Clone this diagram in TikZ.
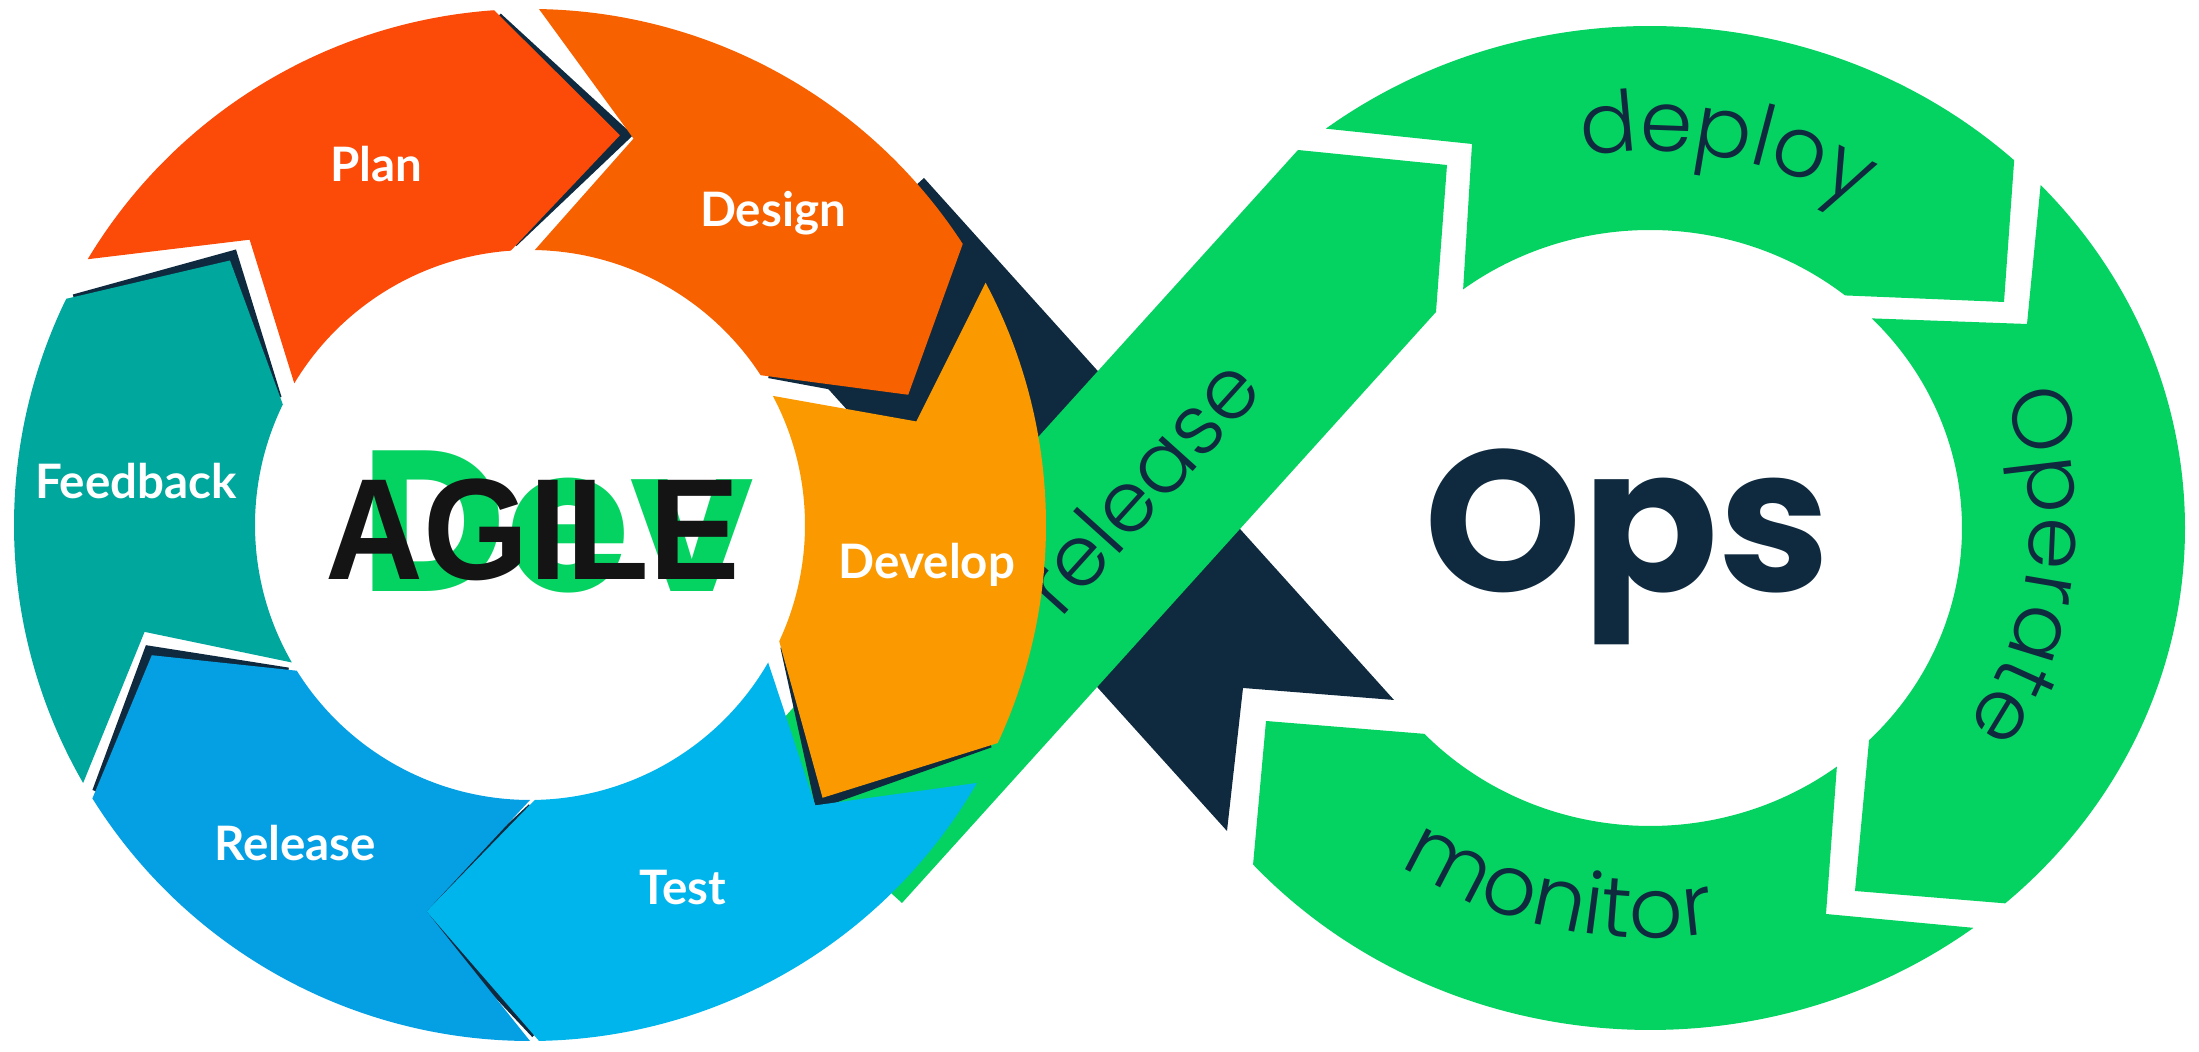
\documentclass[tikz,border=0pt]{standalone}
\usepackage{fontspec}
\usepackage{tikz}
\usetikzlibrary{positioning,decorations.text}
\newfontfamily\opsfont{Poppins}
\newfontfamily\thinfont{Poppins}[UprightFont=* Light]
\newfontfamily\agilefont{Lato}
\newfontfamily\headfont{Liberation Sans}
\definecolor{devgreen}{RGB}{5,211,97}
\definecolor{opsnavy}{RGB}{15,42,63}
\definecolor{planred}{RGB}{252,74,8}
\definecolor{designorange}{RGB}{247,97,0}
\definecolor{developamber}{RGB}{251,154,0}
\definecolor{testblue}{RGB}{0,180,236}
\definecolor{releaseblue}{RGB}{5,160,228}
\definecolor{feedbackteal}{RGB}{0,167,157}
\tikzset{
  steplabel/.style={text=white, inner sep=0pt, font=\agilefont\bfseries\fontsize{13.5pt}{13.5pt}\selectfont},
  bigword/.style={inner sep=0pt, font=\opsfont\bfseries\fontsize{57pt}{57pt}\selectfont},
  ringword/.style={inner sep=0pt, text=opsnavy, font=\thinfont\fontsize{24pt}{24pt}\selectfont},
  ringtext/.style={decorate, decoration={text along path, text align=center,
      text={|\thinfont\fontsize{24pt}{24pt}\selectfont\color{opsnavy}|#1}}}
}

\begin{document}
\begin{tikzpicture}[x=0.01cm, y=0.01cm]
  \useasboundingbox (0,0) rectangle (2199,1052);
  % the X of the loop
  \fill[opsnavy] (924,874) -- (1394,352) -- (1243,364) -- (1227,221) -- (766,732) -- cycle;
  \fill[devgreen] (1298,902) -- (1447,887) -- (1436,740) -- (902,149) -- (745,291) -- cycle;
  \node[ringword, rotate=48] (releaseword) at (1140,567) {release};
  % Ops ring
  \begin{scope}[shift={(1650,524)}]
    \fill[devgreen] (127.3:535 and 502) arc[start angle=127.3, end angle=47.1, x radius=535, y radius=502]
      -- (354,226) -- (51.3:312 and 298) arc[start angle=51.3, end angle=126.8, x radius=312, y radius=298]
      -- (-178,384) -- cycle;
    \fill[devgreen] (43.1:535 and 502) arc[start angle=43.1, end angle=-48.4, x radius=535, y radius=502]
      -- (205,-363) -- (-45.4:312 and 298) arc[start angle=-45.4, end angle=44.7, x radius=312, y radius=298]
      -- (377,204) -- cycle;
    \fill[devgreen] (-52.8:535 and 502) arc[start angle=-52.8, end angle=-137.9, x radius=535, y radius=502]
      -- (-384,-193) -- (-136.3:312 and 298) arc[start angle=-136.3, end angle=-53.2, x radius=312, y radius=298]
      -- (176,-386) -- cycle;
    \path[ringtext=deploy] (114:400 and 377) arc[start angle=114, end angle=44, x radius=400, y radius=377];
    \path[ringtext=Operate] (29:380 and 356) arc[start angle=29, end angle=-41, x radius=380, y radius=356];
    \path[ringtext=monitor] (-138.3:437 and 410) arc[start angle=-138.3, end angle=-68.3, x radius=437, y radius=410];
  \end{scope}
  \node[bigword, text=opsnavy, anchor=base west] (ops) at (1424,460) {Ops};
  % agile wheel
  \begin{scope}[shift={(530,527)}]
    \foreach \col/\tl/\hd/\tp/\nt in {planred/149/94/77/134.5, designorange/89/33/19/75,
        developamber/28/-25/-43/15, testblue/-30/-89/-105/-44.5,
        releaseblue/-90/-148/-161/-105, feedbackteal/-150/-206/-221.4/-164.5}
      \draw[opsnavy, line width=0.18cm] (\hd:506) -- (\tp:400) -- (\hd:286);
    \foreach \col/\tl/\hd/\tp/\nt in {planred/149/94/77/134.5, designorange/89/33/19/75,
        developamber/28/-25/-43/15, testblue/-30/-89/-105/-44.5,
        releaseblue/-90/-148/-161/-105, feedbackteal/-150/-206/-221.4/-164.5}
      \fill[\col] (\tl:516) arc[start angle=\tl, end angle=\hd, radius=516] -- (\tp:400)
        -- (\hd:275) arc[start angle=\hd, end angle=\tl, radius=275] -- (\nt:400) -- cycle;
  \end{scope}
  \node[steplabel] (plan) at (376,888) {Plan};
  \node[steplabel] (design) at (773,839) {Design};
  \node[steplabel] (develop) at (927,487) {Develop};
  \node[steplabel] (test) at (683,164) {Test};
  \node[steplabel] (release) at (295,209) {Release};
  \node[steplabel] (feedback) at (136,571) {Feedback};
  \node[bigword, text=devgreen, anchor=base west] (dev) at (360,460) {Dev};
  \node[inner sep=0pt, text=black!92, font=\headfont\bfseries\fontsize{41pt}{41pt}\selectfont, xscale=0.94] (agile) at (533,522) {AGILE};
\end{tikzpicture}
\end{document}
